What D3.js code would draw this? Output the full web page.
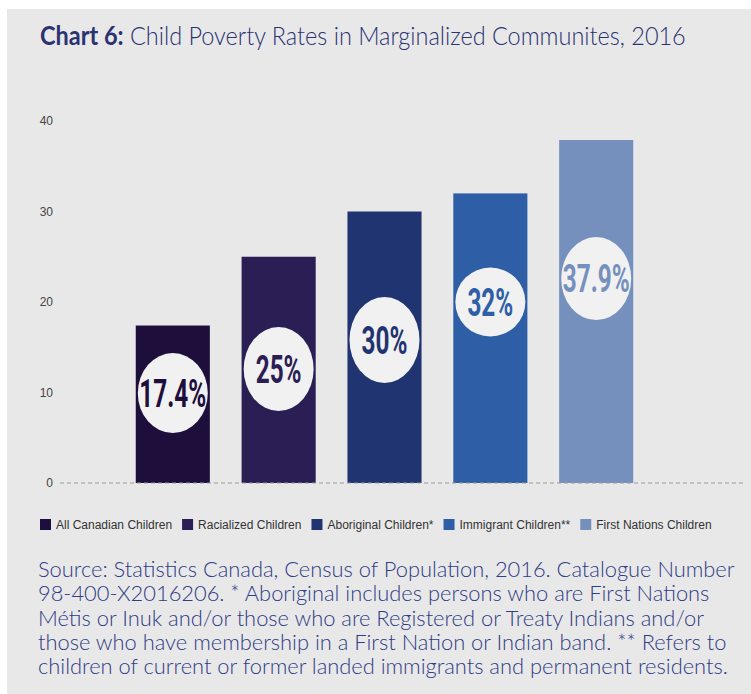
<!DOCTYPE html>
<html>
<head>
<meta charset="utf-8">
<script src="https://cdn.jsdelivr.net/npm/d3@7"></script>
<style>
  html, body { margin: 0; padding: 0; background: #ffffff; }
  svg { display: block; }
</style>
</head>
<body>
<div id="chart"></div>
<script>
// ---------- data ----------
const categories = ["All Canadian Children", "Racialized Children", "Aboriginal Children*", "Immigrant Children**", "First Nations Children"];
const values = [17.4, 25, 30, 32, 37.9];
const valueLabels = ["17.4%", "25%", "30%", "32%", "37.9%"];
const yTicks = [0, 10, 20, 30, 40];
const titleBold = "Chart 6:";
const titleRest = " Child Poverty Rates in Marginalized Communites, 2016";
const footnoteLines = [
  "Source: Statistics Canada, Census of Population, 2016. Catalogue Number",
  "98-400-X2016206. * Aboriginal includes persons who are First Nations",
  "Métis or Inuk and/or those who are Registered or Treaty Indians and/or",
  "those who have membership in a First Nation or Indian band. ** Refers to",
  "children of current or former landed immigrants and permanent residents."
];

// ---------- style ----------
const barColors = ["#1d0e3b", "#2a1e55", "#1f3470", "#2e5fa6", "#7690be"];
const badgeLevel = [0.571, 0.504, 0.527, 0.625, 0.596]; // badge centre as share of bar height
const badgeRy = [40, 42, 43, 34.5, 41.5];
const W = 751, H = 694;

const svg = d3.select("#chart").append("svg").attr("width", W).attr("height", H);
svg.append("rect").attr("x", 7).attr("y", 9).attr("width", W - 7).attr("height", H - 9).attr("fill", "#e8e8e8");

// title (fitted horizontally to the reference span)
const title = svg.append("text").attr("x", 0).attr("y", 0)
  .attr("font-family", "Lato, 'Open Sans', sans-serif").attr("font-size", 26).attr("fill", "#2a3272");
title.append("tspan").attr("font-weight", 700).text(titleBold);
title.append("tspan").attr("font-weight", 300).text(titleRest);
const tw = title.node().getComputedTextLength();
title.attr("transform", `translate(40,45) scale(${646 / tw},1)`);

// scales
const y = d3.scaleLinear().domain([0, 40]).range([483, 121]);
const x = d3.scaleBand().domain(categories).range([104, 665]).paddingInner(0.3).paddingOuter(0.3);
const color = d3.scaleOrdinal().domain(categories).range(barColors);

// y axis
const yAxis = svg.append("g").attr("transform", "translate(60,0)")
  .call(d3.axisLeft(y).tickValues(yTicks).tickSize(0).tickPadding(7));
yAxis.select(".domain").remove();
yAxis.selectAll("text").attr("font-family", "'Liberation Sans', Arial, sans-serif")
  .attr("font-size", 12).attr("fill", "#444");

// bars
svg.append("g").selectAll("rect").data(categories).join("rect")
  .attr("x", d => x(d)).attr("width", x.bandwidth())
  .attr("y", (d, i) => y(values[i])).attr("height", (d, i) => y(0) - y(values[i]))
  .attr("fill", d => color(d));

// baseline
svg.append("line").attr("x1", 60).attr("x2", 745).attr("y1", y(0)).attr("y2", y(0))
  .attr("stroke", "#9a9a9a").attr("stroke-width", 1).attr("stroke-dasharray", "4,3");

// badges
const badges = svg.append("g").selectAll("g").data(categories).join("g")
  .attr("transform", (d, i) => `translate(${x(d) + x.bandwidth() / 2},${y(values[i] * badgeLevel[i])})`);
badges.append("ellipse").attr("rx", 35).attr("ry", (d, i) => badgeRy[i]).attr("fill", "#f1f1f1");
badges.append("text").attr("text-anchor", "middle").attr("dy", "0.36em")
  .attr("transform", "scale(0.64,1)")
  .attr("font-family", "Roboto, 'DejaVu Sans Condensed', sans-serif")
  .attr("font-weight", 700).attr("font-size", 38)
  .attr("fill", d => color(d))
  .text((d, i) => valueLabels[i]);

// legend
const legend = svg.append("g").attr("transform", "translate(40,519)");
let lx = 0;
categories.forEach((c, i) => {
  const g = legend.append("g").attr("transform", `translate(${lx},0)`);
  g.append("rect").attr("width", 11).attr("height", 11).attr("fill", color(c));
  const t = g.append("text").attr("x", 16).attr("y", 10)
    .attr("font-family", "'Liberation Sans', Arial, sans-serif").attr("font-size", 12)
    .attr("fill", "#333").text(c);
  lx += 16 + t.node().getComputedTextLength() + 10;
});

// footnote (fitted so the first line spans the reference width)
const notes = svg.append("g").selectAll("text").data(footnoteLines).join("text")
  .attr("x", 0).attr("y", 0)
  .attr("font-family", "Lato, 'Open Sans', sans-serif").attr("font-size", 21).attr("font-weight", 300)
  .attr("fill", "#2f3c86").text(d => d);
const nw = notes.node().getComputedTextLength();
notes.attr("transform", (d, i) => `translate(38,${577 + i * 24.3}) scale(${697 / nw},1)`);
</script>
</body>
</html>
